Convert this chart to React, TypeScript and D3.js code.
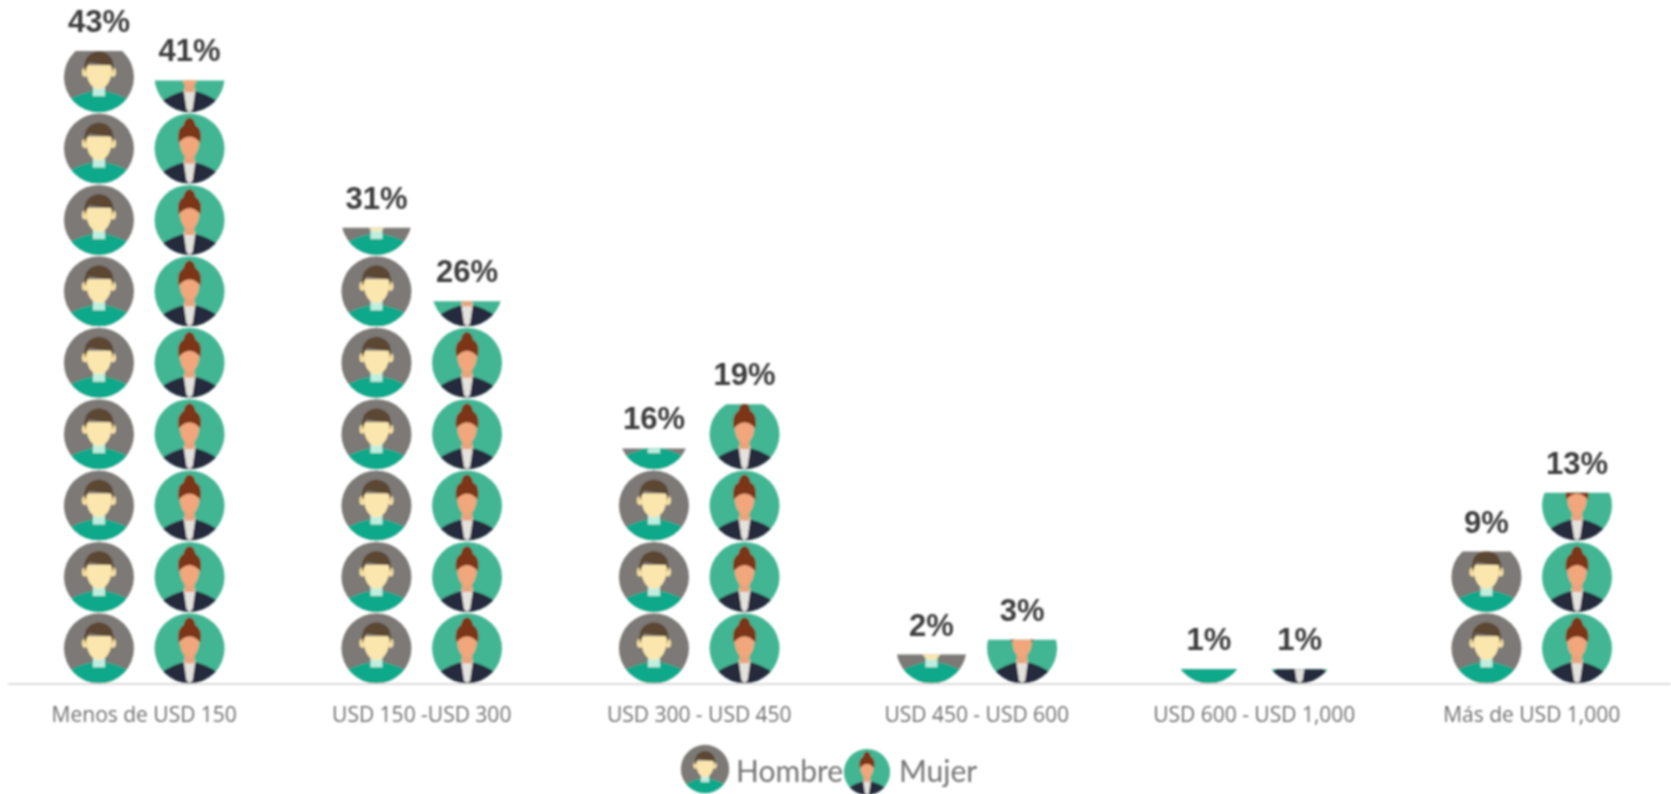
import React from "react";
import * as d3 from "d3";

const categories = ["Menos de USD 150", "USD 150 -USD 300", "USD 300 - USD 450", "USD 450 - USD 600", "USD 600 - USD 1,000", "Más de USD 1,000"];
const hombre = [43, 31, 16, 2, 1, 9];
const mujer = [41, 26, 19, 3, 1, 13];
const seriesNames = ["Hombre", "Mujer"];
const iconValue = 4.85;

const W = 1671, H = 794, base = 684;
const x0 = d3.scaleBand<string>().domain(categories).range([5.5, 1670.5]).paddingInner(0).paddingOuter(0);
const y = d3.scaleLinear().domain([0, 43]).range([base, base - 43 * 14.72]);
const iconPitch = base - y(iconValue);
const R = 35;
const colOffset = 45.3;

function Man() {
  return (
    <g>
      <clipPath id="mclip"><circle r="35" /></clipPath>
      <circle r="35" fill="#7b7976" />
      <g clipPath="url(#mclip)">
        <path d="M-35,35 L-35,25 Q-22,17 -7,14 L7,14 Q22,17 35,25 L35,35 Z" fill="#11a98a" />
        <rect x="-6" y="6" width="12" height="13" fill="#bfeee0" />
        <path d="M-13,-12 Q-13,10 0,12 Q13,10 13,-12 Z" fill="#fbe7ae" />
        <ellipse cx="-14" cy="-5" rx="3" ry="4.5" fill="#f6dfa4" />
        <ellipse cx="14" cy="-5" rx="3" ry="4.5" fill="#f6dfa4" />
        <path d="M-14,-5 Q-17,-24 0,-26 Q17,-24 14,-5 L12,-12 Q0,-13 -10,-15 Z" fill="#5b4633" />
      </g>
    </g>
  );
}

function Woman() {
  return (
    <g>
      <clipPath id="wclip"><circle r="35" /></clipPath>
      <circle r="35" fill="#43b593" />
      <g clipPath="url(#wclip)">
        <path d="M-28,35 L-28,24 Q-18,17 -6,14 L6,14 Q18,17 28,24 L28,35 Z" fill="#262b3d" />
        <path d="M-6,12 L6,12 L3,32 L0,35 L-3,32 Z" fill="#e4e2dd" />
        <rect x="-5" y="3" width="10" height="12" fill="#e8a47c" />
        <path d="M-10,-12 Q-10,8 0,9 Q10,8 10,-12 Z" fill="#f2a67b" />
        <path d="M-11,-6 Q-13,-20 -6,-23 Q-5,-30 0,-31 Q5,-30 6,-23 Q13,-20 11,-6 Q5,-12 0,-12 Q-5,-12 -11,-6 Z" fill="#7c3413" />
      </g>
    </g>
  );
}

export default function App() {
  const cols = categories.flatMap((c, i) => [
    { key: "h" + i, cat: c, v: hombre[i], cx: x0(c)! + x0.bandwidth() / 2 - colOffset, icon: "#man" },
    { key: "m" + i, cat: c, v: mujer[i], cx: x0(c)! + x0.bandwidth() / 2 + colOffset, icon: "#woman" },
  ]);
  return (
    <svg width={W} height={H} viewBox={`0 0 ${W} ${H}`} style={{ position: "absolute", left: 0, top: 0, background: "#fff" }}>
      <defs>
        <filter id="soft" x="-2%" y="-2%" width="104%" height="104%"><feGaussianBlur stdDeviation="1" /></filter>
        <symbol id="man" overflow="visible"><Man /></symbol>
        <symbol id="woman" overflow="visible"><Woman /></symbol>
        {cols.map((c) => (
          <clipPath id={"col" + c.key} key={c.key}>
            <rect x={c.cx - R - 2} y={y(c.v)} width={2 * R + 4} height={base - y(c.v)} />
          </clipPath>
        ))}
      </defs>
      <g filter="url(#soft)">
        <line x1={8} x2={W} y1={base} y2={base} stroke="#cfcfcf" strokeWidth={1.5} />
        {cols.map((c) => (
          <g key={c.key}>
            <g clipPath={`url(#col${c.key})`}>
              {d3.range(Math.ceil(c.v / iconValue)).map((i) => (
                <use key={i} href={c.icon} x={c.cx} y={base - iconPitch * i - iconPitch / 2} />
              ))}
            </g>
            <text x={c.cx} y={y(c.v) - 19} textAnchor="middle" fontFamily="Liberation Sans" fontWeight="700" fontSize={31} fill="#3c3c3c">{c.v}%</text>
          </g>
        ))}
        {categories.map((c) => (
          <text key={c} x={x0(c)! + x0.bandwidth() / 2} y={722} textAnchor="middle" fontFamily="Open Sans" fontSize={21} fill="#707070">{c}</text>
        ))}
        <g transform="translate(705,769) scale(0.69)"><use href="#man" /></g>
        <text x={736} y={782} fontFamily="Lato" fontSize={30} fill="#757575">{seriesNames[0]}</text>
        <g transform="translate(867,772) scale(0.66)"><use href="#woman" /></g>
        <text x={899} y={782} fontFamily="Lato" fontSize={30} fill="#757575">{seriesNames[1]}</text>
      </g>
    </svg>
  );
}
